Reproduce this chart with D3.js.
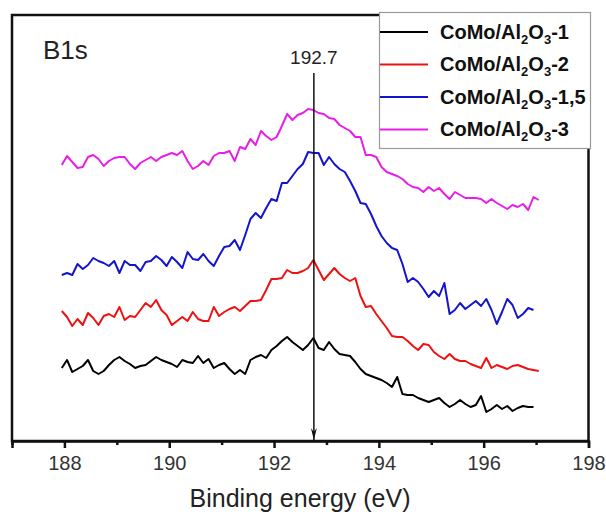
<!DOCTYPE html>
<html lang="en">
<head>
    <meta charset="UTF-8">
    <title>B1s XPS spectra</title>
    <script src="https://d3js.org/d3.v7.min.js"></script>
    <style>
        body {
            margin: 0;
            background: #fff;
            font-family: "Liberation Sans", Arial, sans-serif;
        }
        .tick text {
            font-size: 20px;
            fill: #333;
        }
        .legend-text {
            font-size: 20px;
            font-weight: bold;
            fill: #111;
        }
    </style>
</head>
<body>
    <svg id="chart" width="606" height="515"></svg>

    <script>
        // binding energy grid (eV)
        const energies = [
            187.95, 188.05, 188.15, 188.25, 188.35, 188.45, 188.55, 188.65, 188.75, 188.85,
            188.95, 189.05, 189.15, 189.25, 189.35, 189.45, 189.55, 189.65, 189.75, 189.85,
            189.95, 190.05, 190.15, 190.25, 190.35, 190.45, 190.55, 190.65, 190.75, 190.85,
            190.95, 191.05, 191.15, 191.25, 191.35, 191.45, 191.55, 191.65, 191.75, 191.85,
            191.95, 192.05, 192.15, 192.25, 192.35, 192.45, 192.55, 192.65, 192.75, 192.85,
            192.95, 193.05, 193.15, 193.25, 193.35, 193.45, 193.55, 193.65, 193.75, 193.85,
            193.95, 194.05, 194.15, 194.25, 194.35, 194.45, 194.55, 194.65, 194.75, 194.85,
            194.95, 195.05, 195.15, 195.25, 195.35, 195.45, 195.55, 195.65, 195.75, 195.85,
            195.95, 196.05, 196.15, 196.25, 196.35, 196.45, 196.55, 196.65, 196.75, 196.85,
            196.95, 197.05
        ];

        // intensities (a.u., offset stacked as in the figure)
        const intensity1 = [
            73, 81, 69, 72, 75, 81, 70, 67, 70, 76,
            81, 84, 80, 77, 73, 75, 76, 80, 84, 81,
            79, 77, 74, 81, 79, 78, 85, 78, 82, 73,
            76, 78, 72, 67, 71, 67, 81, 84, 86, 83,
            91, 95, 100, 104, 99, 95, 91, 96, 103, 93,
            91, 99, 92, 87, 86, 85, 79, 72, 67, 65,
            63, 61, 58, 54, 64, 47, 46, 46, 43, 41,
            39, 41, 43, 38, 34, 37, 41, 37, 34, 36,
            45, 29, 32, 36, 32, 35, 30, 33, 35, 34,
            34
        ];
        const intensity2 = [
            130, 124, 115, 122, 116, 128, 123, 116, 125, 127,
            124, 134, 121, 125, 124, 131, 138, 134, 141, 131,
            126, 116, 120, 124, 120, 129, 122, 120, 120, 134,
            125, 129, 132, 134, 130, 135, 140, 140, 141, 151,
            162, 162, 163, 171, 168, 168, 170, 173, 181, 171,
            161, 167, 173, 167, 163, 160, 163, 145, 134, 135,
            127, 120, 113, 105, 104, 104, 100, 95, 91, 97,
            96, 89, 85, 82, 87, 82, 80, 80, 77, 75,
            73, 83, 73, 76, 74, 72, 75, 76, 74, 72,
            71, 70
        ];
        const intensity15 = [
            166, 168, 166, 177, 172, 176, 183, 180, 178, 175,
            180, 168, 180, 176, 176, 170, 179, 180, 185, 181,
            175, 184, 179, 173, 189, 182, 181, 187, 180, 175,
            185, 194, 195, 201, 191, 206, 222, 228, 223, 233,
            242, 240, 258, 258, 265, 272, 277, 289, 288, 288,
            276, 284, 277, 272, 269, 260, 250, 238, 237, 227,
            215, 205, 198, 193, 191, 177, 159, 163, 159, 152,
            144, 150, 145, 158, 127, 131, 138, 132, 136, 140,
            135, 142, 131, 117, 129, 142, 136, 123, 127, 133,
            131
        ];
        const intensity3 = [
            276, 285, 279, 273, 274, 284, 286, 282, 275, 280,
            283, 284, 284, 277, 272, 278, 281, 284, 280, 284,
            286, 288, 286, 290, 280, 272, 275, 280, 276, 285,
            288, 288, 290, 280, 294, 292, 302, 296, 310, 305,
            301, 304, 315, 327, 321, 326, 328, 332, 331, 328,
            327, 323, 322, 316, 313, 310, 304, 304, 286, 286,
            284, 274, 269, 267, 265, 262, 257, 254, 253, 249,
            254, 250, 253, 247, 242, 249, 246, 243, 243, 243,
            242, 238, 242, 238, 235, 232, 236, 234, 237, 231,
            244, 241
        ];

        const sampleSuffixes = ["1", "2", "1,5", "3"];
        const xTickValues = [187, 188, 189, 190, 191, 192, 193, 194, 195, 196, 197, 198];
        const peakEnergy = 192.76;
        const peakLabel = "192.7";

        const colors = ["#000000", "#ee1111", "#1414cc", "#e81ee8"];
        const seriesList = [intensity1, intensity2, intensity15, intensity3];

        const svg = d3.select("#chart");
        const plot = { left: 12, right: 588.5, top: 15, bottom: 441 };

        const x = d3.scaleLinear().domain([187, 198]).range([plot.left, plot.right]);
        const y = d3.scaleLinear().domain([0, 426]).range([plot.bottom, plot.top]);

        const line = d3.line()
            .x((d, i) => x(energies[i]))
            .y(d => y(d));

        // spectra
        svg.append("g").selectAll("path")
            .data(seriesList)
            .join("path")
            .attr("d", d => line(d))
            .attr("fill", "none")
            .attr("stroke", (d, i) => colors[i])
            .attr("stroke-width", 2)
            .attr("stroke-linejoin", "round");

        // frame
        svg.append("rect")
            .attr("x", plot.left)
            .attr("y", plot.top)
            .attr("width", plot.right - plot.left)
            .attr("height", plot.bottom - plot.top)
            .attr("fill", "none")
            .attr("stroke", "#111")
            .attr("stroke-width", 2.5);

        // bottom axis: majors labelled, minors shorter
        const axis = svg.append("g")
            .attr("transform", `translate(0,${plot.bottom})`)
            .call(d3.axisBottom(x)
                .tickValues(xTickValues)
                .tickSize(7)
                .tickPadding(8)
                .tickFormat(d => (d % 2 === 0 ? d : "")));
        axis.select(".domain").attr("stroke", "#111").attr("stroke-width", 2.5);
        axis.selectAll(".tick line")
            .attr("stroke", "#111")
            .attr("stroke-width", 2.5)
            .attr("y2", d => (d % 2 === 0 ? 7 : 4));

        svg.append("text")
            .attr("x", 300)
            .attr("y", 507)
            .attr("text-anchor", "middle")
            .attr("font-size", "25px")
            .attr("fill", "#222")
            .text("Binding energy (eV)");

        svg.append("text")
            .attr("x", 43)
            .attr("y", 59)
            .attr("font-size", "26px")
            .attr("fill", "#222")
            .text("B1s");

        // peak marker with arrow
        svg.append("defs").append("marker")
            .attr("id", "arrow")
            .attr("viewBox", "0 0 6 12")
            .attr("refX", 3)
            .attr("refY", 12)
            .attr("markerWidth", 6)
            .attr("markerHeight", 12)
            .attr("markerUnits", "userSpaceOnUse")
            .attr("orient", "0")
            .append("path")
            .attr("d", "M0,0 L3,4 L6,0 L3,12 Z")
            .attr("fill", "#111");

        svg.append("line")
            .attr("x1", x(peakEnergy))
            .attr("x2", x(peakEnergy))
            .attr("y1", 73)
            .attr("y2", plot.bottom - 1)
            .attr("stroke", "#111")
            .attr("stroke-width", 1.5)
            .attr("marker-end", "url(#arrow)");

        svg.append("text")
            .attr("x", x(peakEnergy))
            .attr("y", 64)
            .attr("text-anchor", "middle")
            .attr("font-size", "19px")
            .attr("fill", "#222")
            .text(peakLabel);

        // legend
        const legend = svg.append("g");
        legend.append("rect")
            .attr("x", 379.5)
            .attr("y", 12.5)
            .attr("width", 211)
            .attr("height", 136)
            .attr("fill", "#fff")
            .attr("stroke", "#999")
            .attr("stroke-width", 1.2);

        sampleSuffixes.forEach((s, i) => {
            const ly = 32 + i * 32.5;
            legend.append("line")
                .attr("x1", 380)
                .attr("x2", 428)
                .attr("y1", ly)
                .attr("y2", ly)
                .attr("stroke", colors[i])
                .attr("stroke-width", 2);

            const t = legend.append("text")
                .attr("class", "legend-text")
                .attr("x", 440)
                .attr("y", ly + 6.5);
            t.append("tspan").text("CoMo/Al");
            t.append("tspan").attr("font-size", "13px").attr("dy", 5).text("2");
            t.append("tspan").attr("dy", -5).text("O");
            t.append("tspan").attr("font-size", "13px").attr("dy", 5).text("3");
            t.append("tspan").attr("dy", -5).text("-" + s);
        });
    </script>
</body>
</html>
